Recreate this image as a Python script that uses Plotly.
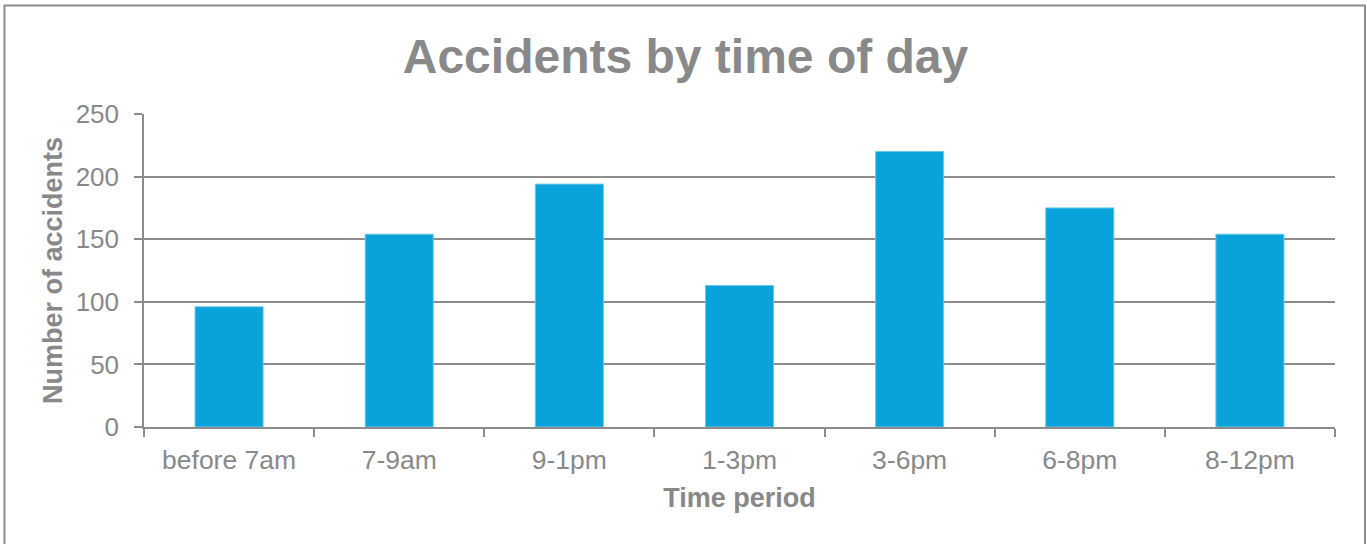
import plotly.graph_objects as go

categories = ["before 7am", "7-9am", "9-1pm", "1-3pm", "3-6pm", "6-8pm", "8-12pm"]
accidents = [96, 154, 194, 113, 220, 175, 154]
y_ticks = [0, 50, 100, 150, 200, 250]

W, H = 1367, 544
L, R, T, B = 144, 32, 114, 117
pw, ph = W - L - R, H - T - B

def px_x(p):
    return (p - L) / pw

def px_y(p):
    return (H - B - p) / ph

gray = "#888888"
line_gray = "#8c8c8c"
font_family = "Liberation Sans, Arial, sans-serif"

fig = go.Figure(
    go.Bar(
        x=categories,
        y=accidents,
        width=0.4,
        marker=dict(color="#09a2da", line=dict(color="#6cc7ea", width=1)),
    )
)

fig.update_layout(
    width=W,
    height=H,
    margin=dict(l=L, r=R, t=T, b=B),
    paper_bgcolor="white",
    plot_bgcolor="white",
    showlegend=False,
    font=dict(family=font_family, color=gray),
    title=dict(
        text="<b>Accidents by time of day</b>",
        font=dict(size=48, color="#898989", family=font_family),
        x=(685.5) / W,
        xref="container",
        xanchor="center",
        y=1 - 56 / H,
        yref="container",
        yanchor="middle",
    ),
    shapes=[
        dict(
            type="rect",
            xref="paper",
            yref="paper",
            x0=px_x(4.5),
            x1=px_x(1365),
            y0=px_y(560),
            y1=px_y(5.5),
            line=dict(color=line_gray, width=2),
            fillcolor="rgba(0,0,0,0)",
            layer="below",
        )
    ],
)

fig.update_xaxes(
    type="category",
    tickson="boundaries",
    ticks="outside",
    ticklen=8,
    tickwidth=1.5,
    tickcolor=line_gray,
    showline=True,
    linecolor=line_gray,
    linewidth=1.5,
    showgrid=False,
    tickfont=dict(size=26.5, color=gray),
    ticklabelstandoff=8,
    title=dict(text="<b>Time period</b>", font=dict(size=27, color=gray), standoff=15),
)

fig.update_yaxes(
    range=[0, 250],
    tickvals=y_ticks,
    ticks="outside",
    ticklen=8,
    tickwidth=1.5,
    tickcolor=line_gray,
    showline=True,
    linecolor=line_gray,
    linewidth=1.5,
    showgrid=True,
    gridcolor=line_gray,
    gridwidth=1.5,
    zeroline=False,
    tickfont=dict(size=26, color=gray),
    ticklabelstandoff=10,
    title=dict(text="<b>Number of accidents</b>", font=dict(size=27, color=gray), standoff=5),
)

fig.write_html(
    "out.html",
    config={"displayModeBar": False},
    post_script="document.body.style.margin='0px';",
)
